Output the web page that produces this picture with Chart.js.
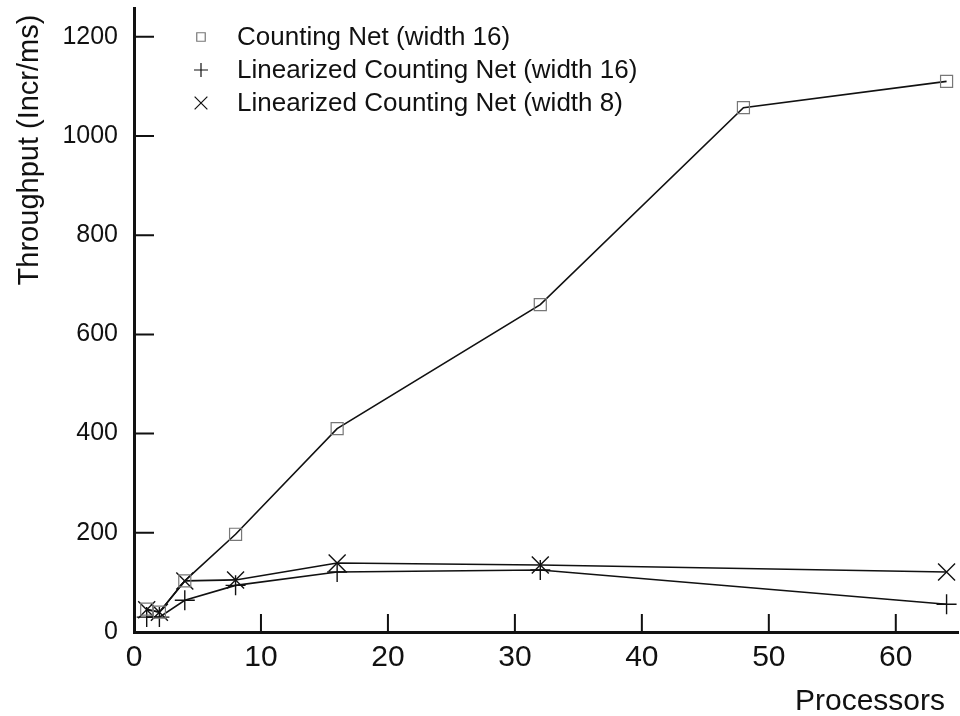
<!DOCTYPE html>
<html>
<head>
<meta charset="utf-8">
<script src="https://cdn.jsdelivr.net/npm/chart.js@4.4.0/dist/chart.umd.min.js"></script>
<style>
  html, body { margin: 0; background: #fff; }
  #wrap { width: 960px; height: 716px; }
</style>
</head>
<body>
<div id="wrap"><canvas id="chart"></canvas></div>
<script>
/* ── Données ────────────────────────────────────────────────── */
const processorsCN    = [1, 2, 4, 8, 16, 32, 48, 64];
const throughputCN    = [46, 40, 103, 197, 410, 660, 1057, 1110];
const processorsLin   = [1, 2, 4, 8, 16, 32, 64];
const throughputLin16 = [30, 30, 64, 94, 121, 125, 56];
const throughputLin8  = [45, 40, 103, 105, 139, 135, 121];
const xTicks = [0, 10, 20, 30, 40, 50, 60];
const yTicks = [0, 200, 400, 600, 800, 1000, 1200];
const seriesNames = [
  'Counting Net (width 16)',
  'Linearized Counting Net (width 16)',
  'Linearized Counting Net (width 8)',
];
const xTitle = 'Processors';
const yTitle = 'Throughput (Incr/ms)';

const pts = (xs, ys) => xs.map((x, i) => ({ x, y: ys[i] }));

/* ── Ticks vers l'intérieur + titres + légende ──────────────── */
const decorations = {
  id: 'decorations',
  afterDraw(chart) {
    const { ctx, chartArea: a, scales: { x, y } } = chart;
    ctx.save();
    ctx.strokeStyle = '#111';
    ctx.lineWidth = 2;
    ctx.beginPath();
    xTicks.slice(1).forEach(v => {
      const px = x.getPixelForValue(v);
      ctx.moveTo(px, a.bottom); ctx.lineTo(px, a.bottom - 18);
    });
    yTicks.slice(1).forEach(v => {
      const py = y.getPixelForValue(v);
      ctx.moveTo(a.left, py); ctx.lineTo(a.left + 20, py);
    });
    ctx.stroke();

    // titres
    ctx.fillStyle = '#111';
    ctx.font = '30px "Liberation Sans Narrow", "Liberation Sans", sans-serif';
    ctx.textAlign = 'right';
    ctx.textBaseline = 'middle';
    ctx.fillText(xTitle, 945, 702);

    ctx.save();
    ctx.translate(30, 150);
    ctx.rotate(-Math.PI / 2);
    ctx.textAlign = 'center';
    ctx.font = '29px "Liberation Sans", sans-serif';
    ctx.fillText(yTitle, 0, 0);
    ctx.restore();

    // légende
    const rows = [37, 70, 103];
    ctx.font = '26px "Liberation Sans", sans-serif';
    ctx.textAlign = 'left';
    chart.data.datasets.forEach((ds, i) => {
      ctx.strokeStyle = ds.pointBorderColor;
      ctx.fillStyle = 'rgba(0,0,0,0)';
      ctx.lineWidth = 1.2;
      Chart.helpers.drawPoint(ctx, {
        pointStyle: ds.pointStyle,
        radius: ds.legendRadius,
        borderWidth: 1.2,
      }, 201, rows[i]);
      ctx.fillStyle = '#111';
      ctx.fillText(ds.label, 237, rows[i] + 1);
    });
    ctx.restore();
  },
};

new Chart(document.getElementById('chart'), {
  type: 'scatter',
  data: {
    datasets: [
      {
        label: seriesNames[0], data: pts(processorsCN, throughputCN),
        showLine: true, borderColor: '#111', borderWidth: 1.6,
        pointStyle: 'rect', pointRadius: 8.5, pointBorderColor: '#777',
        pointBackgroundColor: 'rgba(0,0,0,0)', pointBorderWidth: 1.2,
        legendRadius: 6, clip: false,
      },
      {
        label: seriesNames[1], data: pts(processorsLin, throughputLin16),
        showLine: true, borderColor: '#111', borderWidth: 1.6,
        pointStyle: 'cross', pointRadius: 10, pointBorderColor: '#111',
        pointBorderWidth: 1.4, legendRadius: 7, clip: false,
      },
      {
        label: seriesNames[2], data: pts(processorsLin, throughputLin8),
        showLine: true, borderColor: '#111', borderWidth: 1.6,
        pointStyle: 'crossRot', pointRadius: 12, pointBorderColor: '#111',
        pointBorderWidth: 1.4, legendRadius: 9, clip: false,
      },
    ],
  },
  options: {
    responsive: true, maintainAspectRatio: false, animation: false,
    layout: { autoPadding: false, padding: { top: 8, right: 2, bottom: 0, left: 0 } },
    plugins: { legend: { display: false }, tooltip: { enabled: false } },
    scales: {
      x: {
        type: 'linear', min: 0, max: 64.9,
        afterBuildTicks: s => { s.ticks = xTicks.map(v => ({ value: v })); },
        afterFit: s => { s.height = 84; s.paddingLeft = 0; s.paddingRight = 0; },
        grid: { display: false, drawTicks: false },
        border: { display: true, color: '#111', width: 3 },
        ticks: {
          color: '#111', padding: 8, maxRotation: 0,
          callback: v => String(v),
          font: { family: '"Liberation Sans Narrow", "Liberation Sans", sans-serif', size: 30 },
        },
      },
      y: {
        type: 'linear', min: 0, max: 1258,
        afterBuildTicks: s => { s.ticks = yTicks.map(v => ({ value: v })); },
        afterFit: s => { s.width = 134; s.paddingTop = 0; s.paddingBottom = 0; },
        grid: { display: false, drawTicks: false },
        border: { display: true, color: '#111', width: 3 },
        ticks: {
          color: '#111', padding: 16,
          callback: v => String(v),
          font: { family: '"Liberation Sans", sans-serif', size: 25 },
        },
      },
    },
  },
  plugins: [decorations],
});
</script>
</body>
</html>
